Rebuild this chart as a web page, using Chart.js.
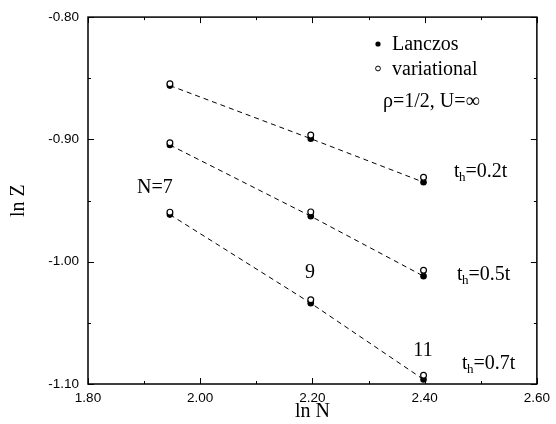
<!DOCTYPE html>
<html>
<head>
<meta charset="utf-8">
<script src="https://cdn.jsdelivr.net/npm/chart.js@4.4.1/dist/chart.umd.min.js"></script>
<style>
html,body{margin:0;padding:0;background:#fff;}
#wrap{width:556px;height:424px;position:relative;}
</style>
</head>
<body>
<div id="wrap"><canvas id="c" width="556" height="424"></canvas></div>
<script>
// ---- data ----
const lnN = [1.946, 2.197, 2.398];
const sizeLabels = ['N=7', '9', '11'];
const lanczos02 = [-0.856, -0.8994, -0.935];
const variational02 = [-0.8545, -0.8965, -0.931];
const lanczos05 = [-0.9046, -0.9628, -1.0118];
const variational05 = [-0.9027, -0.9593, -1.007];
const lanczos07 = [-0.9615, -1.0339, -1.0963];
const variational07 = [-0.9595, -1.0311, -1.0928];
const hopLabels = ['0.2t', '0.5t', '0.7t'];
const xTicks = [1.8, 2.0, 2.2, 2.4, 2.6];
const yTicks = [-0.8, -0.9, -1.0, -1.1];

const pts = (ys) => lnN.map((x, i) => ({x: x, y: ys[i]}));

const lanczosSets = [lanczos02, lanczos05, lanczos07];
const variationalSets = [variational02, variational05, variational07];

const datasets = [];
lanczosSets.forEach((s) => {
  datasets.push({
    label: 'fit', data: pts(s), showLine: true, pointRadius: 0,
    borderColor: '#000', borderWidth: 1, borderDash: [5, 4], order: 3
  });
});
lanczosSets.forEach((s) => {
  datasets.push({
    label: 'Lanczos', data: pts(s), showLine: false, pointRadius: 3.3,
    pointBackgroundColor: '#000', pointBorderColor: '#000', pointBorderWidth: 0, order: 2
  });
});
variationalSets.forEach((s) => {
  datasets.push({
    label: 'variational', data: pts(s), showLine: false, pointRadius: 2.9,
    pointBackgroundColor: '#fff', pointBorderColor: '#000', pointBorderWidth: 1.2, order: 1
  });
});

const serif = '"Liberation Serif", "Times New Roman", serif';

const framePlugin = {
  id: 'frame',
  afterDatasetsDraw(chart) {
    const ctx = chart.ctx, a = chart.chartArea;
    const xs = chart.scales.x, ys = chart.scales.y;
    ctx.save();
    ctx.strokeStyle = '#000';
    ctx.lineWidth = 1.5;
    ctx.strokeRect(a.left, a.top, a.right - a.left, a.bottom - a.top);
    ctx.lineWidth = 1;
    ctx.beginPath();
    // x ticks every 0.1 (major every 0.2)
    for (let k = 0; k <= 8; k++) {
      const v = 1.8 + k * 0.1;
      const px = Math.round(xs.getPixelForValue(v)) + 0.5;
      const len = (k % 2 === 0) ? 6 : 3;
      ctx.moveTo(px, a.bottom); ctx.lineTo(px, a.bottom - len);
      ctx.moveTo(px, a.top); ctx.lineTo(px, a.top + len);
    }
    // y ticks every 0.05 (major every 0.1)
    for (let k = 0; k <= 6; k++) {
      const v = -0.8 - k * 0.05;
      const py = Math.round(ys.getPixelForValue(v)) + 0.5;
      const len = (k % 2 === 0) ? 6 : 3;
      ctx.moveTo(a.left, py); ctx.lineTo(a.left + len, py);
      ctx.moveTo(a.right, py); ctx.lineTo(a.right - len, py);
    }
    ctx.stroke();
    ctx.restore();
  },
  afterDraw(chart) {
    const ctx = chart.ctx;
    ctx.save();
    ctx.fillStyle = '#000';
    ctx.strokeStyle = '#000';
    ctx.textBaseline = 'alphabetic';
    ctx.font = '20px ' + serif;
    // legend
    ctx.beginPath(); ctx.arc(378, 44, 2.6, 0, Math.PI * 2); ctx.fill();
    ctx.beginPath(); ctx.arc(378, 68.5, 2.4, 0, Math.PI * 2); ctx.lineWidth = 1; ctx.stroke();
    ctx.textAlign = 'left';
    ctx.fillText('Lanczos', 392, 50);
    ctx.fillText('variational', 392, 75);
    ctx.fillText('\u03C1=1/2, U=\u221E', 383, 107);
    // size labels
    ctx.fillText(sizeLabels[0], 137, 193);
    ctx.textAlign = 'center';
    ctx.fillText(sizeLabels[1], 310, 278);
    ctx.fillText(sizeLabels[2], 423, 356);
    // hopping labels
    const hopPos = [[454, 177], [457, 280], [462, 369]];
    hopLabels.forEach((t, i) => {
      let [x, y] = hopPos[i];
      ctx.textAlign = 'left';
      ctx.font = '20px ' + serif;
      ctx.fillText('t', x, y);
      x += ctx.measureText('t').width;
      ctx.font = '13px ' + serif;
      ctx.fillText('h', x - 0.5, y + 4);
      x += ctx.measureText('h').width - 0.5;
      ctx.font = '20px ' + serif;
      ctx.fillText('=' + t, x, y);
    });
    ctx.restore();
  }
};

new Chart(document.getElementById('c'), {
  type: 'scatter',
  data: { datasets: datasets },
  options: {
    responsive: false,
    animation: false,
    events: [],
    layout: { padding: { top: 11, right: 14, left: 0, bottom: 0 } },
    plugins: { legend: { display: false }, tooltip: { enabled: false } },
    scales: {
      x: {
        type: 'linear', min: 1.8, max: 2.6,
        afterBuildTicks: (s) => { s.ticks = xTicks.map(v => ({value: v})); },
        afterFit: (s) => { s.height = 40; },
        grid: { display: false, drawTicks: false },
        border: { display: false },
        ticks: { color: '#000', padding: 6, maxRotation: 0,
                 font: { family: '"Liberation Sans", Arial, sans-serif', size: 13.5 },
                 callback: (v) => Number(v).toFixed(2) },
        title: { display: true, text: 'ln N', color: '#000',
                 font: { family: serif, size: 20 }, padding: { top: 0, bottom: 0 } }
      },
      y: {
        type: 'linear', min: -1.1, max: -0.8,
        afterBuildTicks: (s) => { s.ticks = yTicks.map(v => ({value: v})); },
        afterFit: (s) => { s.width = 88; },
        grid: { display: false, drawTicks: false },
        border: { display: false },
        ticks: { color: '#000', padding: 9,
                 font: { family: '"Liberation Sans", Arial, sans-serif', size: 13.5 },
                 callback: (v) => Number(v).toFixed(2) },
        title: { display: true, text: 'ln Z', color: '#000',
                 font: { family: serif, size: 20 }, padding: { top: 7, bottom: 0 } }
      }
    }
  },
  plugins: [framePlugin]
});
</script>
</body>
</html>
